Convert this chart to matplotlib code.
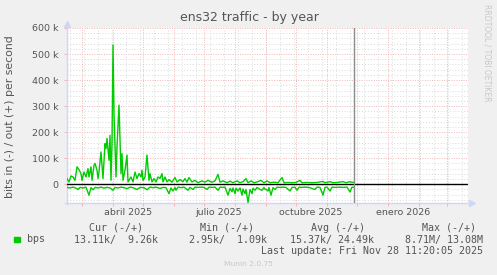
import numpy as np
import pandas as pd
import matplotlib
matplotlib.use('Agg')
import matplotlib.pyplot as plt

W, H = 497, 275

# time window of the munin "by year" graph (1 px per day)
start = pd.Timestamp('2025-02-14 07:00')
end = pd.Timestamp('2026-03-22 07:00')
now = pd.Timestamp('2025-11-28 11:20:05')

# out (+) traffic, days from start -> k bits/s
out_days = [0, 2, 4, 6, 8, 10, 12, 14, 15, 17, 19, 21, 22, 24, 25, 27, 28, 30, 31, 32,
            34, 36, 38, 39, 40, 42, 43, 44, 45, 46, 47, 49, 50, 52, 54, 55, 56, 58, 60, 61,
            64, 66, 68, 70, 72, 74, 75, 76, 78, 80, 82, 83, 85, 87, 89, 91, 93, 95, 96, 98,
            100, 102, 105, 108, 110, 113, 116, 118, 120, 122, 125, 128, 131, 135, 138, 141,
            145, 148, 151, 153, 156, 160, 163, 166, 170, 173, 176, 179, 181, 184, 187, 190,
            194, 197, 200, 203, 207, 211, 215, 217, 221, 225, 229, 233, 235, 240, 245, 250,
            256, 258, 263, 266, 270, 276, 279, 283, 285, 287]
out_kbps = [22, 9, 32, 28, 15, 67, 56, 41, 15, 47, 28, 60, 28, 67, 15, 73, 80, 54, 22, 47,
            124, 22, 156, 137, 176, 92, 188, 15, 156, 535, 272, 28, 144, 304, 41, 118, 15, 54, 112, 9,
            28, 9, 47, 22, 41, 28, 54, 15, 28, 112, 15, 41, 9, 22, 9, 28, 22, 41, 9, 28,
            9, 18, 8, 26, 9, 18, 10, 22, 8, 26, 9, 15, 6, 13, 8, 15,
            8, 13, 38, 8, 13, 6, 12, 6, 13, 6, 10, 22, 6, 13, 6, 9,
            15, 6, 13, 6, 8, 6, 26, 6, 7, 6, 7, 15, 6, 7, 6, 7,
            11, 6, 10, 6, 7, 10, 6, 10, 7, 8]

# in (-) traffic, days from start -> k bits/s (drawn below zero)
in_days = [0, 3, 6, 9, 11, 13, 16, 19, 22, 24, 26, 28, 31, 34, 37, 40, 43, 46, 48, 51,
           54, 57, 60, 63, 66, 70, 73, 77, 80, 83, 86, 89, 93, 96, 99, 102, 104, 106, 108, 109,
           111, 114, 117, 121, 123, 126, 128, 131, 134, 137, 140, 142, 145, 148, 151, 153, 156, 158, 161, 163,
           165, 166, 168, 169, 171, 173, 175, 176, 178, 179, 181, 183, 185, 186, 188, 190, 193, 195, 197, 198,
           200, 201, 202, 204, 206, 208, 210, 213, 216, 219, 223, 225, 228, 230, 232, 235, 238, 242, 248, 250,
           253, 256, 258, 260, 263, 265, 268, 272, 276, 280, 283, 285, 287]
in_kbps = [12, 14, 11, 15, 20, 12, 14, 11, 42, 13, 21, 12, 14, 11, 15, 12, 14, 23, 12, 14,
           11, 13, 17, 11, 13, 20, 12, 13, 21, 11, 13, 11, 16, 12, 13, 36, 14, 26, 12, 23,
           11, 13, 11, 23, 12, 20, 11, 12, 11, 12, 20, 11, 12, 11, 23, 11, 12, 11, 42, 16,
           29, 14, 36, 15, 26, 14, 42, 18, 36, 20, 70, 20, 36, 15, 23, 12, 20, 23, 12, 19,
           22, 26, 12, 42, 13, 20, 11, 12, 11, 12, 26, 12, 11, 23, 11, 12, 11, 12, 20, 11,
           12, 42, 12, 11, 26, 11, 12, 11, 12, 11, 30, 11, 12]

y_ticks = [0, 100000, 200000, 300000, 400000, 500000, 600000]
y_labels = ['0', '100 k', '200 k', '300 k', '400 k', '500 k', '600 k']
x_label_dates = ['2025-04-16', '2025-07-16', '2025-10-16', '2026-01-16']
x_labels = ['abril 2025', 'julio 2025', 'octubre 2025', 'enero 2026']

col_heads = ['Cur (-/+)', 'Min (-/+)', 'Avg (-/+)', 'Max (-/+)']
col_values = ['13.11k/  9.26k', '2.95k/  1.09k', '15.37k/ 24.49k', '8.71M/ 13.08M']

GREEN = '#00CC00'
FONT = '#555555'
AXIS = '#CFD6F8'
MGRID = '#F4B4B4'
GRID = '#DADADA'


def fx(x):
    return x / W


def fy(y):
    return 1 - y / H


fig = plt.figure(figsize=(W / 100, H / 100), dpi=100, facecolor='#F0F0F0')
ax = fig.add_axes([fx(67), fy(202.5), 401 / W, 174.5 / H])
ax.set_facecolor('white')
ax.set_xlim(start, end)
ax.set_ylim(-70000, 600000)

# grid: gray every 20k / every two weeks, red every 100k / every month
for v in range(-60000, 600001, 20000):
    if v % 100000:
        ax.axhline(v, color=GRID, lw=0.7, ls=(0, (1, 2)), zorder=1)
for v in y_ticks[1:]:
    ax.axhline(v, color=MGRID, lw=0.7, ls=(0, (1, 1.5)), zorder=1)
for d in pd.date_range('2025-02-17', end, freq='14D'):
    ax.axvline(d, color=GRID, lw=0.7, ls=(0, (1, 2)), zorder=1)
month_starts = pd.date_range('2025-03-01', end, freq='MS')
for d in month_starts:
    ax.axvline(d, color=MGRID, lw=0.7, ls=(0, (1, 1.5)), zorder=1)

out_x = start + pd.to_timedelta(out_days, unit='D')
in_x = start + pd.to_timedelta(in_days, unit='D')
ax.plot(out_x, np.array(out_kbps) * 1000, color=GREEN, lw=1, zorder=3)
ax.plot(in_x, -np.array(in_kbps) * 1000, color=GREEN, lw=1, zorder=3)
ax.axhline(0, color='black', lw=1, zorder=4)
ax.axvline(now, color='#8C8C8C', lw=1, zorder=4)

# axes with arrows
for s in ['top', 'right', 'left', 'bottom']:
    ax.spines[s].set_visible(False)
ax.plot([0, 0], [-0.01, 1.02], transform=ax.transAxes, color=AXIS, lw=1, clip_on=False)
ax.plot([-0.005, 1.01], [0, 0], transform=ax.transAxes, color=AXIS, lw=1, clip_on=False)
ax.plot([0], [1.025], marker='^', ms=4.5, color=AXIS, transform=ax.transAxes, clip_on=False)
ax.plot([1.01], [0], marker='>', ms=4.5, color=AXIS, transform=ax.transAxes, clip_on=False)

ax.set_yticks(y_ticks)
ax.set_yticklabels(y_labels)
ax.set_xticks(month_starts)
ax.set_xticklabels([])
ax.set_xticks(pd.to_datetime(x_label_dates), minor=True)
ax.set_xticklabels(x_labels, minor=True)
ax.tick_params(axis='y', length=2, width=0.7, color=MGRID, pad=4, labelsize=6.8, labelcolor=FONT)
ax.tick_params(axis='x', which='major', length=2, width=0.7, color=MGRID)
ax.tick_params(axis='x', which='minor', length=0, pad=4, labelsize=6.8, labelcolor=FONT)

fig.text(fx(249), fy(17), 'ens32 traffic - by year', ha='center', va='center',
         fontsize=9, color=FONT)
fig.text(fx(10), fy(117), 'bits in (-) / out (+) per second', rotation=90,
         ha='center', va='center', fontsize=7.8, color=FONT)
fig.text(fx(487), fy(53), 'RRDTOOL / TOBI OETIKER', rotation=270,
         ha='center', va='center', fontsize=5.5, color='#C8C8C8')

mono = 'DejaVu Sans Mono'
for i, head in enumerate(col_heads):
    fig.text(fx(89 + 111 * i), fy(228), head, ha='left', va='center',
             fontsize=7.2, family=mono, color=FONT)
fig.patches.append(plt.Rectangle((fx(14), fy(242)), 5.5 / W, 5.5 / H,
                                 transform=fig.transFigure, color=GREEN))
fig.text(fx(26.7), fy(239.5), 'bps', ha='left', va='center', fontsize=7.2,
         family=mono, color=FONT)
for r, txt in zip([158, 266.7, 374, 482.7], col_values):
    fig.text(fx(r), fy(239.5), txt, ha='right', va='center', fontsize=7.2,
             family=mono, color=FONT)
fig.text(fx(483), fy(251), 'Last update: Fri Nov 28 11:20:05 2025', ha='right',
         va='center', fontsize=7.2, family=mono, color=FONT)
fig.text(fx(248), fy(264), 'Munin 2.0.75', ha='center', va='center', fontsize=5.4,
         color='#C8C8C8')

fig.savefig('out.png', dpi=100, facecolor=fig.get_facecolor())
